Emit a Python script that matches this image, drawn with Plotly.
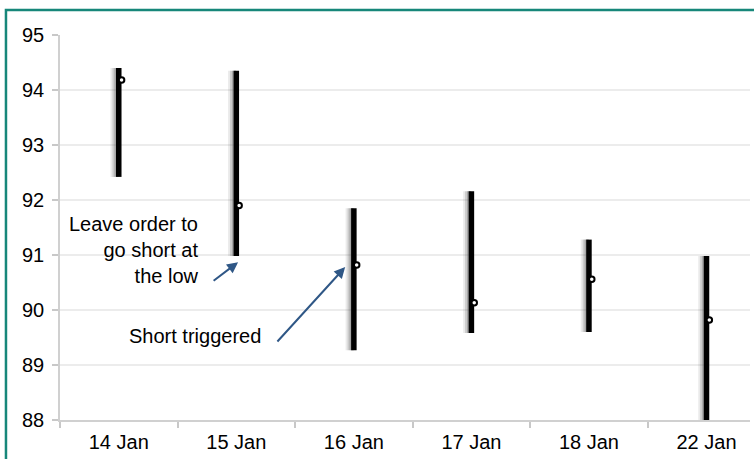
import plotly.graph_objects as go

dates = ["14 Jan", "15 Jan", "16 Jan", "17 Jan", "18 Jan", "22 Jan"]
highs = [94.40, 94.35, 91.85, 92.16, 91.28, 90.98]
lows = [92.42, 90.98, 89.27, 89.58, 89.60, 87.98]
closes = [94.18, 91.90, 90.82, 90.13, 90.56, 89.82]
yticks = [88, 89, 90, 91, 92, 93, 94, 95]

FONT = "Liberation Sans, Arial, Helvetica, sans-serif"
idx = list(range(len(dates)))

# build high-low segments
def segs(offset):
    xs, ys = [], []
    for i, h, l in zip(idx, highs, lows):
        xs += [i + offset, i + offset, None]
        ys += [l, h, None]
    return xs, ys

fig = go.Figure()
for off, w, a in [(-0.036, 8, 0.12), (-0.028, 6, 0.2), (-0.02, 4, 0.3)]:
    sx, sy = segs(off)
    fig.add_trace(go.Scatter(x=sx, y=sy, mode="lines",
                             line=dict(color=f"rgba(80,80,80,{a})", width=w),
                             hoverinfo="skip", showlegend=False))
bx, by = segs(0.0)
fig.add_trace(go.Scatter(x=bx, y=by, mode="lines",
                         line=dict(color="black", width=5.5),
                         showlegend=False))
fig.add_trace(go.Scatter(x=[i + 0.024 for i in idx], y=closes, mode="markers",
                         marker=dict(symbol="circle", size=5.5, color="white",
                                     line=dict(color="black", width=2)),
                         showlegend=False))

arrow_col = "#2f5786"
fig.add_annotation(x=0.70, y=91.09, xref="x", yref="y",
                   text="Leave order to<br>go short at<br>the low",
                   showarrow=False, xanchor="right", yanchor="middle",
                   align="right", font=dict(size=20, color="black", family=FONT))
fig.add_annotation(x=1.228, y=89.53, xref="x", yref="y",
                   text="Short triggered", showarrow=False,
                   xanchor="right", yanchor="middle",
                   font=dict(size=20, color="black", family=FONT))
fig.add_annotation(x=1.015, y=90.87, ax=0.794, ay=90.51,
                   xref="x", yref="y", axref="x", ayref="y", text="",
                   showarrow=True, arrowhead=2, arrowsize=1.1, arrowwidth=2,
                   arrowcolor=arrow_col)
fig.add_annotation(x=1.926, y=90.78, ax=1.338, ay=89.40,
                   xref="x", yref="y", axref="x", ayref="y", text="",
                   showarrow=True, arrowhead=2, arrowsize=1.1, arrowwidth=2,
                   arrowcolor=arrow_col)

# teal frame
fig.add_shape(type="rect", xref="paper", yref="paper",
              x0=-0.0783, x1=1.2, y0=-0.3, y1=1.0649,
              line=dict(color="#17877a", width=2.5), fillcolor="rgba(0,0,0,0)",
              layer="below")

fig.update_layout(
    width=754, height=459,
    margin=dict(l=60, r=4, t=35, b=39),
    paper_bgcolor="white", plot_bgcolor="white",
    font=dict(family=FONT, size=20, color="black"),
    showlegend=False,
)
fig.update_xaxes(
    range=[-0.5, 5.37], tickmode="array", tickvals=idx, ticktext=dates,
    ticks="", showgrid=False, zeroline=False,
    showline=True, linecolor="#d0d0d0", linewidth=1.5,
    tickfont=dict(size=20, family=FONT), ticklabelstandoff=3,
    minor=dict(tickmode="linear", tick0=-0.5, dtick=1, ticks="outside",
               ticklen=6, tickcolor="#c8c8c8", tickwidth=1.5, showgrid=False),
)
fig.update_yaxes(
    range=[88, 95], tickmode="array", tickvals=yticks,
    ticks="outside", ticklen=6, tickcolor="#c8c8c8", tickwidth=1.5,
    showgrid=True, gridcolor="#ececec", gridwidth=1.5, zeroline=False,
    showline=True, linecolor="#d0d0d0", linewidth=1.5,
    tickfont=dict(size=20, family=FONT), ticklabelstandoff=4,
)

fig.write_html("out.html", config={"displayModeBar": False},
               post_script="document.body.style.margin='0';document.body.style.overflow='hidden';")
